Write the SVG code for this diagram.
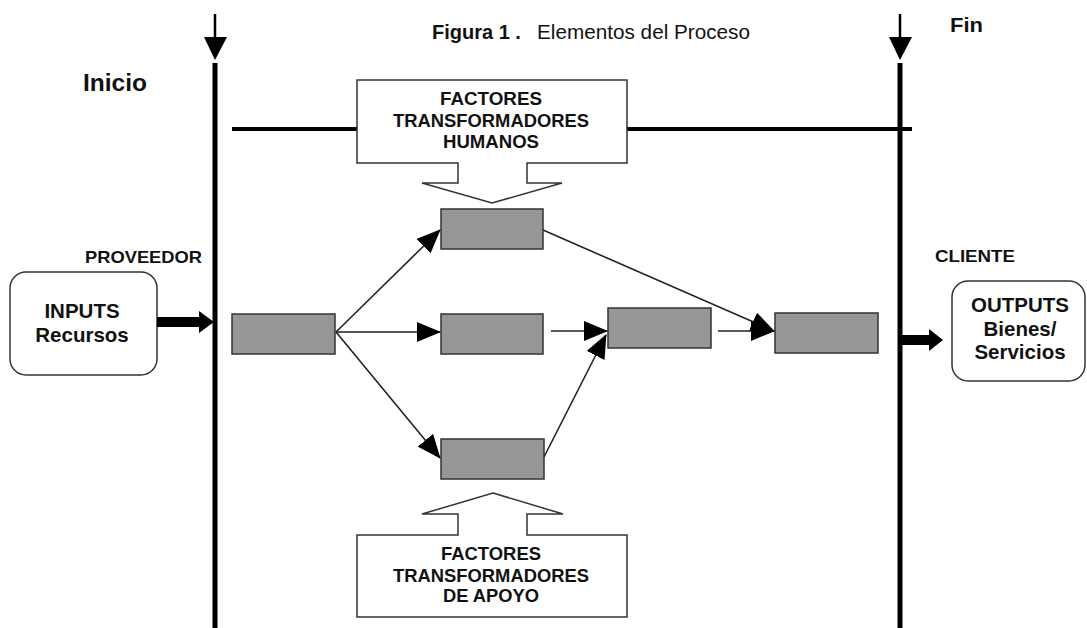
<svg xmlns="http://www.w3.org/2000/svg" width="1087" height="628" viewBox="0 0 1087 628">
  <style>
    .lbl { font-family: "Liberation Sans", Arial, sans-serif; font-weight: bold; fill: #111; }
    .title { font-family: "Liberation Sans", Arial, sans-serif; fill: #111; }
    .step { fill: #979797; stroke: #333; stroke-width: 1.5; }
    .frame { fill: #fff; stroke: #333; stroke-width: 1.5; }
    .rail { stroke: #000; stroke-width: 5; fill: none; }
    .link { stroke: #222; stroke-width: 1.6; fill: none; marker-end: url(#head); }
  </style>
  <defs>
    <marker id="head" markerUnits="userSpaceOnUse" markerWidth="24" markerHeight="20" refX="23" refY="10" orient="auto">
      <path d="M0,0 L24,10 L0,20 Z" fill="#000"/>
    </marker>
  </defs>

  <rect width="1087" height="628" fill="#fff"/>

  <!-- title -->
  <g id="title">
    <text class="title" x="432" y="39" font-size="20" font-weight="bold">Figura 1 .</text>
    <text class="title" x="537" y="39" font-size="20" textLength="213" lengthAdjust="spacingAndGlyphs">Elementos del Proceso</text>
  </g>

  <!-- start / end rails -->
  <g id="rail-start">
    <line x1="215" y1="14" x2="215" y2="40" stroke="#000" stroke-width="2.5"/>
    <path d="M204,37 L227,37 L215,60 Z" fill="#000"/>
    <line class="rail" x1="215" y1="63" x2="215" y2="628"/>
    <text class="lbl" x="83" y="91" font-size="24.5">Inicio</text>
  </g>
  <g id="rail-end">
    <line x1="900" y1="14" x2="900" y2="40" stroke="#000" stroke-width="2.5"/>
    <path d="M889,37 L912,37 L900,60 Z" fill="#000"/>
    <line class="rail" x1="900" y1="63" x2="900" y2="628"/>
    <text class="lbl" x="950" y="32" font-size="20.5" textLength="33" lengthAdjust="spacingAndGlyphs">Fin</text>
  </g>

  <!-- horizontal band through the human factors box -->
  <g id="band">
    <line x1="232" y1="129" x2="357" y2="129" stroke="#000" stroke-width="4"/>
    <line x1="627" y1="129" x2="912" y2="129" stroke="#000" stroke-width="4"/>
  </g>

  <!-- human transforming factors callout -->
  <g id="factores-humanos">
    <path class="frame" d="M357,80 H627 V163 H527 V183 H562 L492,203 L422,183 H458 V163 H357 Z"/>
    <text class="lbl" x="491" y="105" font-size="17.5" text-anchor="middle" textLength="102" lengthAdjust="spacingAndGlyphs">FACTORES</text>
    <text class="lbl" x="491" y="127" font-size="17.5" text-anchor="middle" textLength="196" lengthAdjust="spacingAndGlyphs">TRANSFORMADORES</text>
    <text class="lbl" x="491" y="148" font-size="17.5" text-anchor="middle" textLength="96" lengthAdjust="spacingAndGlyphs">HUMANOS</text>
  </g>

  <!-- support transforming factors callout -->
  <g id="factores-apoyo">
    <path class="frame" d="M493,493 L563,514 H527 V535 H627 V617 H357 V535 H458 V514 H422 Z"/>
    <text class="lbl" x="491" y="560" font-size="17.5" text-anchor="middle" textLength="100" lengthAdjust="spacingAndGlyphs">FACTORES</text>
    <text class="lbl" x="491" y="582" font-size="17.5" text-anchor="middle" textLength="196" lengthAdjust="spacingAndGlyphs">TRANSFORMADORES</text>
    <text class="lbl" x="491" y="602" font-size="17.5" text-anchor="middle" textLength="96" lengthAdjust="spacingAndGlyphs">DE APOYO</text>
  </g>

  <!-- supplier side -->
  <g id="inputs">
    <text class="lbl" x="85" y="263" font-size="16.5" textLength="117" lengthAdjust="spacingAndGlyphs">PROVEEDOR</text>
    <rect class="frame" x="10" y="272" width="147" height="103" rx="16"/>
    <text class="lbl" x="82" y="318" font-size="20.5" text-anchor="middle">INPUTS</text>
    <text class="lbl" x="82" y="342" font-size="20.5" text-anchor="middle">Recursos</text>
  </g>

  <!-- client side -->
  <g id="outputs">
    <text class="lbl" x="935" y="262" font-size="16.5" textLength="80" lengthAdjust="spacingAndGlyphs">CLIENTE</text>
    <rect class="frame" x="952" y="281" width="133" height="100" rx="16"/>
    <text class="lbl" x="1020" y="312" font-size="20.5" text-anchor="middle">OUTPUTS</text>
    <text class="lbl" x="1020" y="336" font-size="20.5" text-anchor="middle">Bienes/</text>
    <text class="lbl" x="1020" y="359" font-size="20.5" text-anchor="middle">Servicios</text>
  </g>

  <!-- process steps -->
  <g id="paso-1"><rect class="step" x="232" y="314" width="103" height="40"/></g>
  <g id="paso-2"><rect class="step" x="441" y="209" width="102" height="40"/></g>
  <g id="paso-3"><rect class="step" x="441" y="314" width="102" height="40"/></g>
  <g id="paso-4"><rect class="step" x="441" y="439" width="103" height="40"/></g>
  <g id="paso-5"><rect class="step" x="608" y="308" width="103" height="40"/></g>
  <g id="paso-6"><rect class="step" x="775" y="313" width="103" height="40"/></g>

  <!-- connectors -->
  <g id="connectors">
    <path d="M157,317 H199 V311 L214,322 L199,333 V327 H157 Z" fill="#000"/>
    <path d="M900,335 H929 V329 L943,340 L929,351 V345 H900 Z" fill="#000"/>
    <line class="link" x1="336" y1="332" x2="440" y2="230"/>
    <line class="link" x1="336" y1="332" x2="440" y2="332"/>
    <line class="link" x1="336" y1="332" x2="440" y2="458"/>
    <line class="link" x1="551" y1="331" x2="607" y2="331"/>
    <line class="link" x1="544" y1="457" x2="606" y2="335"/>
    <line class="link" x1="543" y1="230" x2="774" y2="331"/>
    <line class="link" x1="718" y1="331" x2="774" y2="331"/>
  </g>
</svg>
